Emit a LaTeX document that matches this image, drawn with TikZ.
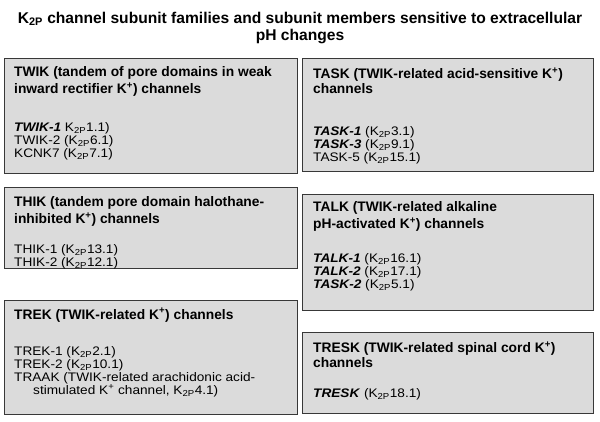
\documentclass[tikz,border=0pt]{standalone}
\usepackage{fontspec}
\setmainfont{Liberation Sans}
\newfontfamily\memfont[FakeStretch=1.1]{Liberation Sans}
\usetikzlibrary{positioning}

\newcommand{\ktwop}[1]{K\textsubscript{2P}#1}
\newcommand{\famhead}[1]{{\rmfamily\bfseries\fontsize{13.8}{15}\selectfont #1}}

\begin{document}
\begin{tikzpicture}[x=1pt, y=-1pt,
    famBox/.style={draw=black!78, line width=1.4pt, fill=black!14, anchor=north west, inner sep=0pt},
    famText/.style={anchor=north west, inner sep=0pt, align=left, font=\memfont\fontsize{12.4}{13}\selectfont}]
    \useasboundingbox (0,0) rectangle (600,422);

    % draw title
    \node[anchor=north, inner sep=0pt, align=center, font=\fontsize{15.6}{17.3}\selectfont\bfseries] (title) at (300,11.5)
        {\ktwop{} channel subunit families and subunit members sensitive to extracellular\\pH changes};

    % draw family boxes
    \node[famBox, minimum width=293pt, minimum height=115pt] (twik) at (4,58) {};
    \node[famBox, minimum width=291pt, minimum height=113pt] (task) at (302,58) {};
    \node[famBox, minimum width=293pt, minimum height=81pt] (thik) at (4,187) {};
    \node[famBox, minimum width=291pt, minimum height=116pt] (talk) at (302,194) {};
    \node[famBox, minimum width=293pt, minimum height=114pt] (trek) at (4,300) {};
    \node[famBox, minimum width=291pt, minimum height=81pt] (tresk) at (302,332) {};

    % draw box texts
    \node[famText, below right=8.5pt and 10pt of twik.north west] (twiktxt) {%
        \famhead{TWIK (tandem of pore domains in weak}\\[2pt]
        \famhead{inward rectifier K\textsuperscript{+}) channels}\\[25.5pt]
        \textbf{\textit{TWIK-1}} \ktwop{1.1})\\
        TWIK-2 (\ktwop{6.1})\\
        KCNK7 (\ktwop{7.1})};
    \node[famText, below right=9.5pt and 11pt of task.north west] (tasktxt) {%
        \famhead{TASK (TWIK-related acid-sensitive K\textsuperscript{+})}\\[2pt]
        \famhead{channels}\\[29pt]
        \textbf{\textit{TASK-1}} (\ktwop{3.1})\\
        \textbf{\textit{TASK-3}} (\ktwop{9.1})\\
        TASK-5 (\ktwop{15.1})};
    \node[famText, below right=9.5pt and 10pt of thik.north west] (thiktxt) {%
        \famhead{THIK (tandem pore domain halothane-}\\[2pt]
        \famhead{inhibited K\textsuperscript{+}) channels}\\[17pt]
        THIK-1 (\ktwop{13.1})\\
        THIK-2 (\ktwop{12.1})};
    \node[famText, below right=7.5pt and 11pt of talk.north west] (talktxt) {%
        \famhead{TALK (TWIK-related alkaline}\\[2pt]
        \famhead{pH-activated K\textsuperscript{+}) channels}\\[21.4pt]
        \textbf{\textit{TALK-1}} (\ktwop{16.1})\\
        \textbf{\textit{TALK-2}} (\ktwop{17.1})\\
        \textbf{\textit{TASK-2}} (\ktwop{5.1})};
    \node[famText, below right=8pt and 10pt of trek.north west] (trektxt) {%
        \famhead{TREK (TWIK-related K\textsuperscript{+}) channels}\\[23pt]
        TREK-1 (\ktwop{2.1})\\
        TREK-2 (\ktwop{10.1})\\
        TRAAK (TWIK-related arachidonic acid-\\
        \hspace*{19pt}stimulated K\textsuperscript{+} channel, \ktwop{4.1})};
    \node[famText, below right=9.5pt and 11pt of tresk.north west] (tresktxt) {%
        \famhead{TRESK (TWIK-related spinal cord K\textsuperscript{+})}\\[2pt]
        \famhead{channels}\\[17pt]
        \textbf{\textit{TRESK}} (\ktwop{18.1})};
\end{tikzpicture}
\end{document}
